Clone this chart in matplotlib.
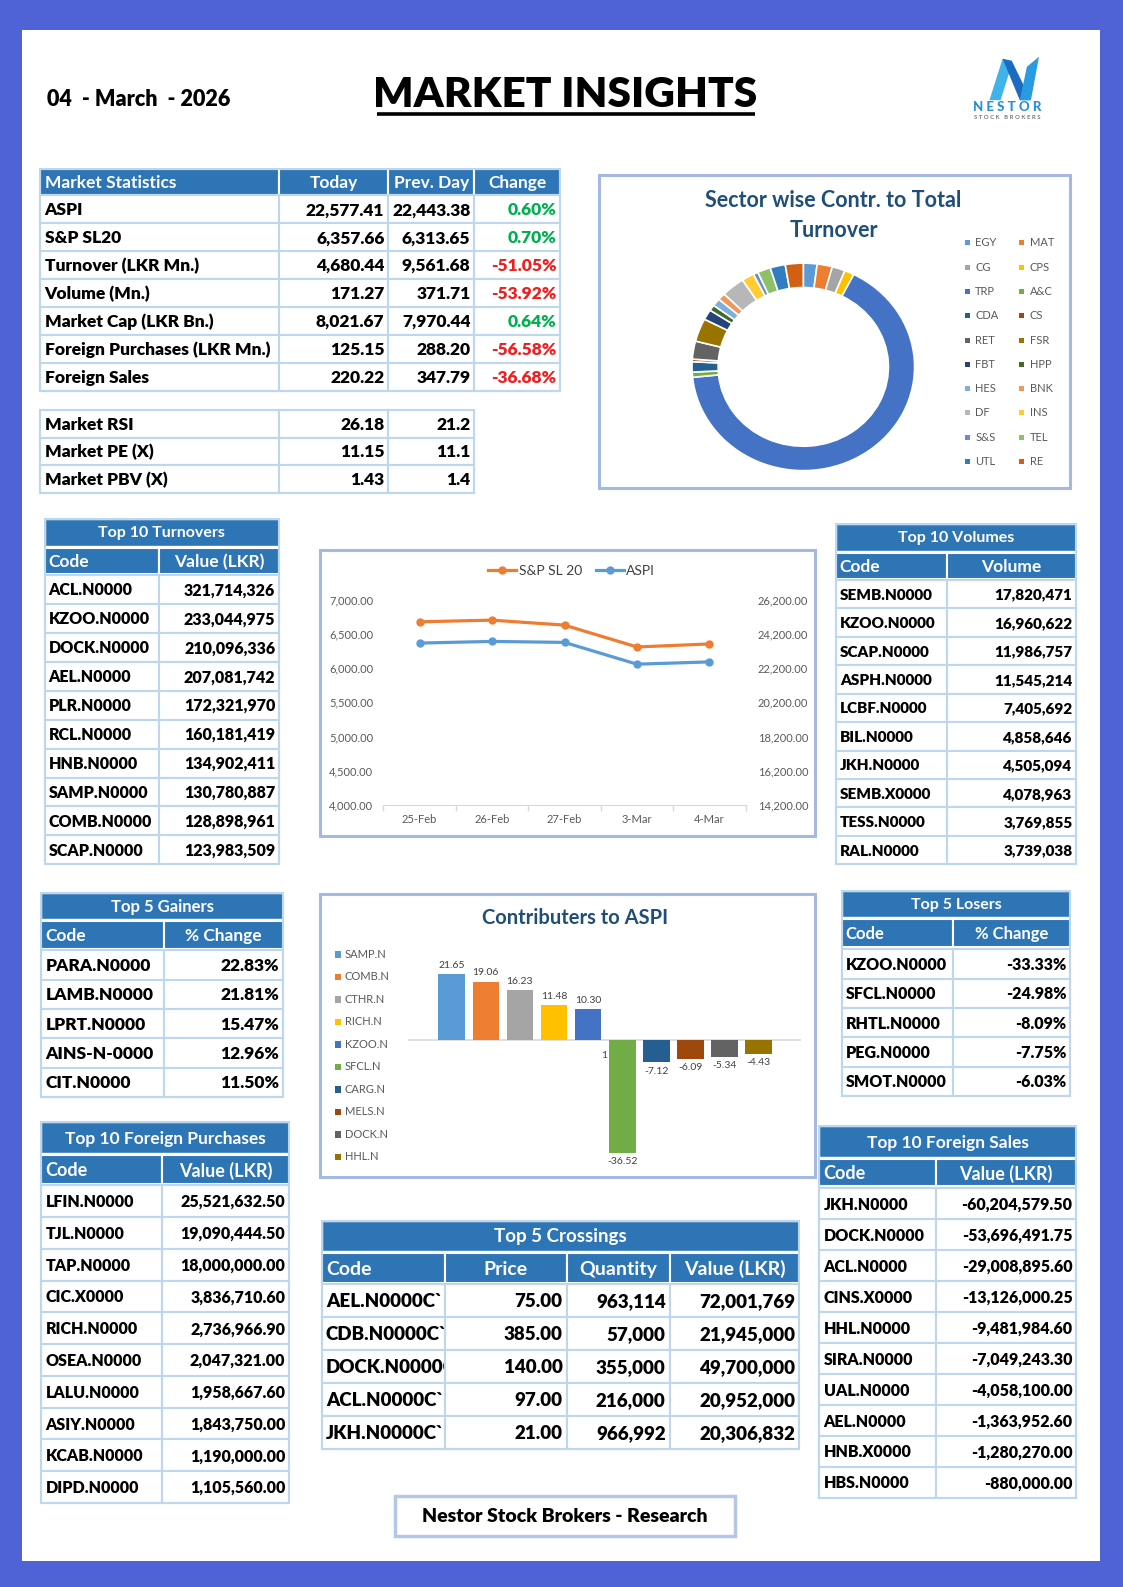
import matplotlib
matplotlib.use("Agg")
import matplotlib.pyplot as plt
from matplotlib.patches import Rectangle, Polygon

plt.rcParams["font.family"] = ["Lato", "DejaVu Sans"]

# ---------------- data ----------------
report_date = "04  - March  - 2026"
report_title = "MARKET INSIGHTS"
footer_text = "Nestor Stock Brokers - Research"

ms_labels = ["ASPI", "S&P SL20", "Turnover (LKR Mn.)", "Volume (Mn.)",
             "Market Cap (LKR Bn.)", "Foreign Purchases (LKR Mn.)", "Foreign Sales"]
ms_today = [22577.41, 6357.66, 4680.44, 171.27, 8021.67, 125.15, 220.22]
ms_prev = [22443.38, 6313.65, 9561.68, 371.71, 7970.44, 288.20, 347.79]
ms_change = [0.60, 0.70, -51.05, -53.92, 0.64, -56.58, -36.68]

ind_labels = ["Market RSI", "Market PE (X)", "Market PBV (X)"]
ind_today = [26.18, 11.15, 1.43]
ind_prev = [21.2, 11.1, 1.4]

sectors = ["EGY", "MAT", "CG", "CPS", "TRP", "A&C", "CDA", "CS", "RET", "FSR",
           "FBT", "HPP", "HES", "BNK", "DF", "INS", "S&S", "TEL", "UTL", "RE"]
sector_share = [2.0, 2.2, 1.9, 1.4, 65.9, 0.8, 1.6, 0.4, 2.8, 3.6,
                1.6, 0.9, 1.2, 1.1, 3.4, 1.8, 0.7, 1.9, 2.2, 2.6]
sector_colors = ["#5B9BD5", "#ED7D31", "#A5A5A5", "#FFC000", "#4472C4", "#70AD47",
                 "#255E91", "#9E480E", "#636363", "#997300", "#264478", "#43682B",
                 "#7CAFDD", "#F1975A", "#B7B7B7", "#FFCD33", "#698ED0", "#8CC168",
                 "#327DC2", "#D26012"]

line_dates = ["25-Feb", "26-Feb", "27-Feb", "3-Mar", "4-Mar"]
snp_sl20 = [6683, 6707, 6634, 6313.65, 6357.66]
aspi = [23683, 23780, 23722, 22443.38, 22577.41]

contrib_codes = ["SAMP.N", "COMB.N", "CTHR.N", "RICH.N", "KZOO.N",
                 "SFCL.N", "CARG.N", "MELS.N", "DOCK.N", "HHL.N"]
contrib_values = [21.65, 19.06, 16.23, 11.48, 10.30, -36.52, -7.12, -6.09, -5.34, -4.43]
contrib_colors = ["#5B9BD5", "#ED7D31", "#A5A5A5", "#FFC000", "#4472C4",
                  "#70AD47", "#255E91", "#9E480E", "#636363", "#997300"]

to_codes = ["ACL.N0000", "KZOO.N0000", "DOCK.N0000", "AEL.N0000", "PLR.N0000",
            "RCL.N0000", "HNB.N0000", "SAMP.N0000", "COMB.N0000", "SCAP.N0000"]
to_values = [321714326, 233044975, 210096336, 207081742, 172321970,
             160181419, 134902411, 130780887, 128898961, 123983509]

vol_codes = ["SEMB.N0000", "KZOO.N0000", "SCAP.N0000", "ASPH.N0000", "LCBF.N0000",
             "BIL.N0000", "JKH.N0000", "SEMB.X0000", "TESS.N0000", "RAL.N0000"]
vol_values = [17820471, 16960622, 11986757, 11545214, 7405692,
              4858646, 4505094, 4078963, 3769855, 3739038]

gain_codes = ["PARA.N0000", "LAMB.N0000", "LPRT.N0000", "AINS-N-0000", "CIT.N0000"]
gain_pct = [22.83, 21.81, 15.47, 12.96, 11.50]

lose_codes = ["KZOO.N0000", "SFCL.N0000", "RHTL.N0000", "PEG.N0000", "SMOT.N0000"]
lose_pct = [-33.33, -24.98, -8.09, -7.75, -6.03]

fp_codes = ["LFIN.N0000", "TJL.N0000", "TAP.N0000", "CIC.X0000", "RICH.N0000",
            "OSEA.N0000", "LALU.N0000", "ASIY.N0000", "KCAB.N0000", "DIPD.N0000"]
fp_values = [25521632.50, 19090444.50, 18000000.00, 3836710.60, 2736966.90,
             2047321.00, 1958667.60, 1843750.00, 1190000.00, 1105560.00]

fs_codes = ["JKH.N0000", "DOCK.N0000", "ACL.N0000", "CINS.X0000", "HHL.N0000",
            "SIRA.N0000", "UAL.N0000", "AEL.N0000", "HNB.X0000", "HBS.N0000"]
fs_values = [-60204579.50, -53696491.75, -29008895.60, -13126000.25, -9481984.60,
             -7049243.30, -4058100.00, -1363952.60, -1280270.00, -880000.00]

cr_codes = ["AEL.N0000C`", "CDB.N0000C`", "DOCK.N0000C`", "ACL.N0000C`", "JKH.N0000C`"]
cr_price = [75.00, 385.00, 140.00, 97.00, 21.00]
cr_qty = [963114, 57000, 355000, 216000, 966992]
cr_value = [72001769, 21945000, 49700000, 20952000, 20306832]

# ---------------- layout helpers ----------------
W, H = 1110.0, 1568.0
BLUE_BG = "#5063D6"
HDR = "#2E75B6"
GRID = "#BDD7EE"
BOX = "#A3B8E2"
TITLE_BLUE = "#1F4E79"
GREEN = "#00B050"
RED = "#F01E1E"
GREY_TXT = "#595959"
WEIGHT = "heavy"

fig = plt.figure(figsize=(11.23, 15.87), dpi=100)
base = fig.add_axes([0, 0, 1, 1])
base.set_xlim(0, W)
base.set_ylim(H, 0)
base.axis("off")


def frect(x0, y0, x1, y1):
    return [x0 / W, 1 - y1 / H, (x1 - x0) / W, (y1 - y0) / H]


def cell(x0, y0, x1, y1, fc, ec=GRID, lw=1.5, z=2):
    r = Rectangle((x0, y0), x1 - x0, y1 - y0, facecolor=fc, edgecolor=ec,
                  linewidth=lw, zorder=z)
    base.add_patch(r)
    return r


def txt(x, y, s, ha="left", color="black", size=11.5, weight=WEIGHT, z=30):
    return base.text(x, y, s, ha=ha, va="center", color=color, fontsize=size,
                     fontweight=weight, zorder=z)


def place(x0, x1, align, pad=4):
    if align == "left":
        return x0 + pad
    if align == "right":
        return x1 - pad
    return (x0 + x1) / 2


def draw_table(cols, rows, aligns, row_y0, row_h, headers=None, hdr_y=None,
               hdr_aligns=None, title=None, title_y=None, size=11.5,
               hdr_size=12, title_size=11, colors=None):
    x_left, x_right = cols[0], cols[-1]
    top = row_y0
    if title is not None:
        cell(x_left, title_y[0], x_right, title_y[1], HDR, ec="white", lw=1)
        txt((x_left + x_right) / 2, (title_y[0] + title_y[1]) / 2 + 1, title,
            ha="center", color="white", size=title_size, weight="bold")
        top = title_y[0]
    if headers is not None:
        for j, h in enumerate(headers):
            a, b = cols[j], cols[j + 1]
            cell(a, hdr_y[0], b, hdr_y[1], HDR, ec="white", lw=1.5)
            txt(place(a, b, hdr_aligns[j]), (hdr_y[0] + hdr_y[1]) / 2 + 1, h,
                ha=hdr_aligns[j], color="white", size=hdr_size, weight="bold")
        if title is None:
            top = hdr_y[0]
    for i, row in enumerate(rows):
        y0 = row_y0 + i * row_h
        for j, val in enumerate(row):
            a, b = cols[j], cols[j + 1]
            # later columns sit above earlier ones so overflowing text is hidden
            cell(a, y0, b, y0 + row_h, "white", ec=GRID, lw=1.5, z=2 + 2 * j)
            c = "black"
            if colors is not None and colors[i][j] is not None:
                c = colors[i][j]
            txt(place(a, b, aligns[j]), y0 + row_h / 2 + 1, val, ha=aligns[j],
                color=c, size=size, z=3 + 2 * j)
    bottom = row_y0 + len(rows) * row_h
    base.add_patch(Rectangle((x_left, top), x_right - x_left, bottom - top,
                             fc="none", ec=GRID, lw=1.5, zorder=20))


# ---------------- background ----------------
base.add_patch(Rectangle((0, 0), W, H, fc=BLUE_BG, ec="none", zorder=0))
base.add_patch(Rectangle((22, 30), 1065, 1512, fc="white", ec="none", zorder=0.5))

# ---------------- header ----------------
base.text(46, 98, report_date, fontsize=15.5, fontweight=WEIGHT, va="center",
          ha="left", color="black", zorder=30)
base.text(559, 94, report_title, fontsize=30.5, fontweight=WEIGHT, va="center",
          ha="center", color="black", zorder=30)
base.plot([373, 746], [113, 113], color="black", lw=2.6, solid_capstyle="butt", zorder=30)

# logo
base.add_patch(Polygon([(978, 99), (989, 99), (1000, 64), (991, 58)], closed=True,
                       fc="#3FB3EA", ec="none", zorder=30))
base.add_patch(Polygon([(991, 58), (1000, 60), (1019, 99), (1008, 99)], closed=True,
                       fc="#1B6CC0", ec="none", zorder=30))
base.add_patch(Polygon([(1008, 99), (1019, 99), (1027, 56), (1015, 66)], closed=True,
                       fc="#2A9BE0", ec="none", zorder=30))
base.text(996, 106, "N E S T O R", fontsize=9.5, fontweight="black", ha="center",
          va="center", color="#2B8FD6", zorder=30)
base.text(996, 116, "S T O C K   B R O K E R S", fontsize=4.3, fontweight="bold",
          ha="center", va="center", color="#777777", zorder=30)

# ---------------- market statistics ----------------
ms_rows = [[lab, f"{t:,.2f}", f"{p:,.2f}", f"{c:.2f}%"]
           for lab, t, p, c in zip(ms_labels, ms_today, ms_prev, ms_change)]
ms_cols_colors = [[None, None, None, GREEN if c >= 0 else RED] for c in ms_change]
draw_table([40, 276, 384, 469, 554], ms_rows, ["left", "right", "right", "right"],
           193, 27.6, headers=["Market Statistics", "Today", "Prev. Day", "Change"],
           hdr_y=(167, 193), hdr_aligns=["left", "center", "center", "center"],
           size=12.5, hdr_size=12.5, colors=ms_cols_colors)

ind_rows = [[lab, f"{t:g}", f"{p:g}"] for lab, t, p in zip(ind_labels, ind_today, ind_prev)]
draw_table([40, 276, 384, 469], ind_rows, ["left", "right", "right"], 405, 27.3,
           size=12.5)

# ---------------- top 10 turnovers ----------------
draw_table([44, 157, 276], [[c, f"{v:,}"] for c, v in zip(to_codes, to_values)],
           ["left", "right"], 568, 28.6, headers=["Code", "Value (LKR)"],
           hdr_y=(541, 567), hdr_aligns=["left", "center"], title="Top 10 Turnovers",
           title_y=(513, 539), size=11.5, hdr_size=12.5, title_size=11.5)

# ---------------- top 10 volumes ----------------
draw_table([826, 936, 1064], [[c, f"{v:,}"] for c, v in zip(vol_codes, vol_values)],
           ["left", "right"], 573, 28.1, headers=["Code", "Volume"],
           hdr_y=(546, 572), hdr_aligns=["left", "center"], title="Top 10 Volumes",
           title_y=(518, 544), size=11, hdr_size=12.5, title_size=11.5)

# ---------------- gainers / losers ----------------
draw_table([41, 162, 280], [[c, f"{v:.2f}%"] for c, v in zip(gain_codes, gain_pct)],
           ["left", "right"], 939, 29, headers=["Code", "% Change"],
           hdr_y=(910, 938), hdr_aligns=["left", "center"], title="Top 5 Gainers",
           title_y=(882, 908), size=12.5, hdr_size=12.5, title_size=12)

draw_table([832, 942, 1058], [[c, f"{v:.2f}%"] for c, v in zip(lose_codes, lose_pct)],
           ["left", "right"], 938, 29, headers=["Code", "% Change"],
           hdr_y=(908, 936), hdr_aligns=["left", "center"], title="Top 5 Losers",
           title_y=(880, 906), size=11.5, hdr_size=12, title_size=11.5)

# ---------------- foreign purchases / sales ----------------
draw_table([41, 160, 286], [[c, f"{v:,.2f}"] for c, v in zip(fp_codes, fp_values)],
           ["left", "right"], 1171, 31.4, headers=["Code", "Value (LKR)"],
           hdr_y=(1141, 1170), hdr_aligns=["left", "center"],
           title="Top 10 Foreign Purchases", title_y=(1109, 1139), size=11.5,
           hdr_size=13, title_size=12.5)

draw_table([810, 925, 1064], [[c, f"{v:,.2f}"] for c, v in zip(fs_codes, fs_values)],
           ["left", "right"], 1174, 30.6, headers=["Code", "Value (LKR)"],
           hdr_y=(1145, 1172), hdr_aligns=["left", "center"],
           title="Top 10 Foreign Sales", title_y=(1113, 1143), size=11.5,
           hdr_size=13, title_size=12.5)

# ---------------- crossings ----------------
cr_rows = [[c, f"{p:,.2f}", f"{q:,}", f"{v:,}"]
           for c, p, q, v in zip(cr_codes, cr_price, cr_qty, cr_value)]
draw_table([318, 440, 560, 662, 790], cr_rows, ["left", "right", "right", "right"],
           1269, 32.6, headers=["Code", "Price", "Quantity", "Value (LKR)"],
           hdr_y=(1238, 1268), hdr_aligns=["left", "center", "center", "center"],
           title="Top 5 Crossings", title_y=(1206, 1236), size=13.5, hdr_size=14,
           title_size=13.5)

# ---------------- chart boxes ----------------
for (x0, y0, x1, y1) in [(592, 173, 1058, 482), (316, 543, 806, 826), (316, 883, 806, 1163)]:
    base.add_patch(Rectangle((x0, y0), x1 - x0, y1 - y0, fc="white", ec=BOX, lw=2.2, zorder=1))

# ---------------- donut ----------------
base.text(824, 213, "Sector wise Contr. to Total\nTurnover", ha="center", va="center",
          fontsize=15.5, fontweight="bold", color=TITLE_BLUE, linespacing=1.55, zorder=30)
axd = fig.add_axes(frect(684, 260, 904, 465))
axd.pie(sector_share, colors=sector_colors, startangle=90, counterclock=False,
        wedgeprops=dict(width=0.235, edgecolor="white", linewidth=1.2))
axd.set_aspect("auto")
axd.set_xlim(-1, 1)
axd.set_ylim(-1, 1)
axd.axis("off")
for k, (name, col) in enumerate(zip(sectors, sector_colors)):
    cx = 956 if k % 2 == 0 else 1010
    cy = 240 + (k // 2) * 24
    base.add_patch(Rectangle((cx - 2.5, cy - 2.5), 5, 5, fc=col, ec="none", zorder=30))
    base.text(cx + 8, cy, name, fontsize=8, color=GREY_TXT, va="center", ha="left", zorder=30)

# ---------------- line chart ----------------
axl = fig.add_axes(frect(379, 593, 737, 795))
axl.patch.set_alpha(0)
xs = list(range(len(line_dates)))
l1, = axl.plot(xs, snp_sl20, color="#ED7D31", lw=2.3, marker="o", ms=5, zorder=3)
axl.set_ylim(4000, 7000)
axl.set_xlim(-0.5, len(line_dates) - 0.5)
axl.set_yticks([4000 + 500 * i for i in range(7)])
axl.set_yticklabels([f"{4000 + 500 * i:,.2f}" for i in range(7)])
axl.set_xticks(xs)
axl.set_xticklabels(line_dates)
axl.set_xticks([i - 0.5 for i in range(len(line_dates) + 1)], minor=True)
axl.tick_params(axis="y", length=0, pad=7.3, labelsize=8, labelcolor=GREY_TXT)
axl.tick_params(axis="x", which="major", length=0, pad=7.0, labelsize=8, labelcolor=GREY_TXT)
axl.tick_params(axis="x", which="minor", length=4, color="#D9D9D9", width=1)
for s in ["top", "left", "right"]:
    axl.spines[s].set_visible(False)
axl.spines["bottom"].set_color("#D9D9D9")
axr = axl.twinx()
l2, = axr.plot(xs, aspi, color="#5B9BD5", lw=2.3, marker="o", ms=5, zorder=3)
axr.set_ylim(14200, 26200)
axr.set_yticks([14200 + 2000 * i for i in range(7)])
axr.set_yticklabels([f"{14200 + 2000 * i:,.2f}" for i in range(7)])
axr.tick_params(axis="y", length=0, pad=8.6, labelsize=8, labelcolor=GREY_TXT)
for s in ["top", "left", "right", "bottom"]:
    axr.spines[s].set_visible(False)
fig.legend([l1, l2], ["S&P SL 20", "ASPI"], loc="center",
           bbox_to_anchor=(565 / W, 1 - 564 / H), ncol=2, frameon=False, fontsize=10,
           handlelength=2.0, columnspacing=1.0, handletextpad=0.2, labelcolor="#404040")

# ---------------- contributors chart ----------------
base.text(568, 907, "Contributers to ASPI", ha="center", va="center", fontsize=14.5,
          fontweight="bold", color=TITLE_BLUE, zorder=30)
axc = fig.add_axes(frect(403, 925, 792, 1152))
axc.patch.set_alpha(0)
cx_pos = list(range(len(contrib_codes)))
bars = axc.bar(cx_pos, contrib_values, width=0.78, color=contrib_colors, zorder=2)
axc.set_xlim(-1.29, 10.25)
axc.set_ylim(-40.7, 33.8)
axc.axhline(0, color="#D9D9D9", lw=1.2, zorder=1)
axc.axis("off")
axc.bar_label(bars, fmt="%.2f", padding=3, fontsize=7.5, color="#404040")
sf = contrib_codes.index("SFCL.N")
axc.annotate("1", xy=(sf - 0.39, 0), xytext=(-1, -11), textcoords="offset points",
             ha="right", va="center", fontsize=7.5, color="#404040")
for k, (name, col) in enumerate(zip(contrib_codes, contrib_colors)):
    cy = 943 + k * 22.2
    base.add_patch(Rectangle((331, cy - 3), 6.5, 6.5, fc=col, ec="none", zorder=30))
    base.text(341, cy, name, fontsize=8, color=GREY_TXT, va="center", ha="left", zorder=30)

# ---------------- footer ----------------
base.add_patch(Rectangle((390, 1478), 336, 40, fc="white", ec="#B4C7E7", lw=2.5, zorder=2))
base.text(558, 1498, footer_text, ha="center", va="center", fontsize=14,
          fontweight=WEIGHT, color="black", zorder=30)

fig.savefig("out.png", dpi=100)
